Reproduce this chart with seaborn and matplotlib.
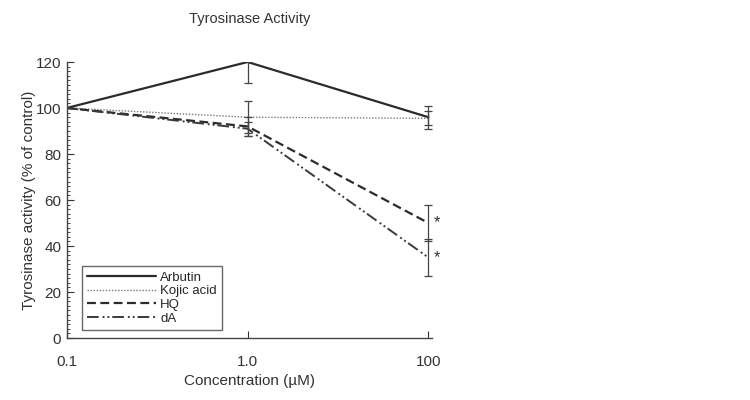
import matplotlib
matplotlib.use('Agg')
import matplotlib.pyplot as plt
import seaborn as sns
import pandas as pd
from matplotlib.ticker import MultipleLocator

# data
conc_labels = ['0.1', '1.0', '100']
compounds = ['Arbutin', 'Kojic acid', 'HQ', 'dA']
arbutin = [100, 120, 96]
kojic = [100, 96, 95.5]
hq = [100, 92, 50]
da = [100, 91, 35]
arbutin_err = [0, 9, 5]
kojic_err = [0, 7, 3]
hq_err = [0, 4, 8]
da_err = [0, 3, 8]
signif = [False, False, True, True]  # asterisk at 100 uM

values = [arbutin, kojic, hq, da]
errors = [arbutin_err, kojic_err, hq_err, da_err]

rows = []
for name, vals in zip(compounds, values):
    for i, v in enumerate(vals):
        rows.append({'pos': i, 'activity': v, 'compound': name})
df = pd.DataFrame(rows)

sns.set_style('ticks')
plt.rcParams['font.family'] = ['Liberation Sans', 'DejaVu Sans']

fig = plt.figure(figsize=(7.5, 4), dpi=100)
ax = fig.add_axes([0.089, 0.155, 0.487, 0.69])

dashes = {'Arbutin': '', 'Kojic acid': (1, 1.2), 'HQ': (4, 2), 'dA': (6, 2, 1, 1.5, 1, 1.5)}
colors = {'Arbutin': '#2b2b2b', 'Kojic acid': '#7a7a7a', 'HQ': '#2b2b2b', 'dA': '#3a3a3a'}
widths = {'Arbutin': 1.6, 'Kojic acid': 1.0, 'HQ': 1.6, 'dA': 1.4}

for name in compounds:
    sub = df[df['compound'] == name]
    sns.lineplot(data=sub, x='pos', y='activity', ax=ax, color=colors[name],
                 linewidth=widths[name], label=name)
    ln = ax.get_lines()[-1]
    if dashes[name]:
        ln.set_dashes(dashes[name])

for name, vals, errs in zip(compounds, values, errors):
    x = list(range(len(vals)))
    ax.errorbar(x[1:], vals[1:], yerr=errs[1:], fmt='none', ecolor='#444444',
                elinewidth=0.9, capsize=3, capthick=0.9)

for name, vals, s in zip(compounds, values, signif):
    if s:
        ax.text(2.03, vals[-1], '*', fontsize=12, va='center', ha='left', color='#333333')

ax.set_xlim(0, 2.02)
ax.set_ylim(0, 120)
ax.set_xticks(range(len(conc_labels)))
ax.set_xticklabels(conc_labels)
ax.yaxis.set_major_locator(MultipleLocator(20))
ax.yaxis.set_minor_locator(MultipleLocator(2))
ax.tick_params(axis='both', direction='in', labelsize=11, colors='#333333', length=5, width=0.8)
ax.tick_params(axis='x', pad=12)
ax.tick_params(axis='y', pad=4)
ax.tick_params(axis='y', which='minor', direction='in', length=2, width=0.6)
sns.despine(ax=ax)
for sp in ['left', 'bottom']:
    ax.spines[sp].set_color('#444444')
    ax.spines[sp].set_linewidth(1.0)

ax.set_xlabel('Concentration (\u00b5M)', fontsize=11, color='#333333', labelpad=4)
ax.set_ylabel('Tyrosinase activity (% of control)', fontsize=11, color='#333333', labelpad=0)
ax.set_title('Tyrosinase Activity', fontsize=10.5, color='#333333', pad=28)

leg = ax.legend(loc='lower left', bbox_to_anchor=(0.035, 0.02), fontsize=9.5, frameon=True,
                fancybox=False, edgecolor='#444444', handlelength=5.2, borderpad=0.4,
                labelspacing=0.1, handletextpad=0.3, borderaxespad=0.2)
leg.get_frame().set_linewidth(1.0)

fig.savefig('out.png', dpi=100)
